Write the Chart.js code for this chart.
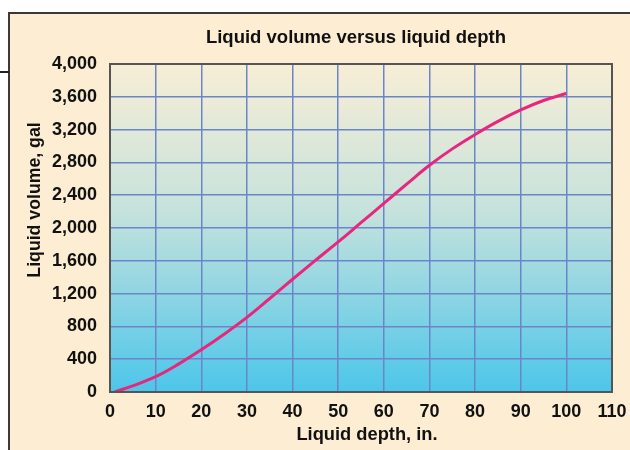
<!DOCTYPE html>
<html>
<head>
<meta charset="utf-8">
<script src="https://cdn.jsdelivr.net/npm/chart.js@4/dist/chart.umd.min.js"></script>
<style>
  html, body { margin: 0; padding: 0; background: #ffffff; }
  #wrap { position: relative; width: 630px; height: 450px; overflow: hidden; }
  #panel {
    position: absolute; left: 8px; top: 12px; width: 640px; height: 460px;
    background: #fdeed3; border-left: 2px solid #3a3a3a; border-top: 2px solid #3a3a3a;
  }
  #stub { position: absolute; left: 0; top: 71px; width: 9px; height: 2px; background: #222; }
  #chart { position: absolute; left: 0; top: 0; }
</style>
</head>
<body>
<div id="wrap">
  <div id="panel"></div>
  <div id="stub"></div>
  <canvas id="chart" width="630" height="450"></canvas>
</div>
<script>
// Liquid depth (in.) and the matching liquid volume (gal)
const depthIn   = [1, 5, 10, 15, 20, 25, 30, 35, 40, 45, 50, 55, 60, 65, 70, 75, 80, 85, 90, 95, 100];
const volumeGal = [0, 75, 187, 340, 515, 705, 910, 1140, 1375, 1605, 1830, 2065, 2300, 2535, 2765, 2965, 3140, 3300, 3440, 3555, 3640];

const xTicks = [0, 10, 20, 30, 40, 50, 60, 70, 80, 90, 100, 110];
const yTicks = [0, 400, 800, 1200, 1600, 2000, 2400, 2800, 3200, 3600, 4000];

const chartTitle = 'Liquid volume versus liquid depth';
const xTitle = 'Liquid depth, in.';
const yTitle = 'Liquid volume, gal';

const FONT = '"Liberation Sans", Arial, Helvetica, sans-serif';

// Plot background gradient plus the frame and captions
const decor = {
  id: 'decor',
  beforeDraw(chart) {
    const { ctx, chartArea: a } = chart;
    const g = ctx.createLinearGradient(0, a.top, 0, a.bottom);
    g.addColorStop(0, '#f7eed6');
    g.addColorStop(0.45, '#c6e2dc');
    g.addColorStop(1, '#4cc6ea');
    ctx.save();
    ctx.fillStyle = g;
    ctx.fillRect(a.left, a.top, a.right - a.left, a.bottom - a.top);
    ctx.restore();
  },
  afterDraw(chart) {
    const { ctx, chartArea: a } = chart;
    ctx.save();
    ctx.strokeStyle = '#555555';
    ctx.lineWidth = 2;
    ctx.strokeRect(a.left, a.top, a.right - a.left, a.bottom - a.top);

    ctx.fillStyle = '#111111';
    ctx.textAlign = 'center';
    ctx.textBaseline = 'middle';
    ctx.font = 'bold 18.5px ' + FONT;
    ctx.fillText(chartTitle, 356, a.top - 26);
    ctx.font = 'bold 18.3px ' + FONT;
    ctx.fillText(xTitle, 367, a.bottom + 43);
    ctx.font = 'bold 17.7px ' + FONT;
    ctx.translate(35, 200);
    ctx.rotate(-Math.PI / 2);
    ctx.fillText(yTitle, 0, 0);
    ctx.restore();
  }
};

new Chart(document.getElementById('chart'), {
  type: 'line',
  data: {
    datasets: [{
      data: depthIn.map((d, i) => ({ x: d, y: volumeGal[i] })),
      borderColor: '#e8267e',
      borderWidth: 3,
      pointRadius: 0,
      fill: false,
      tension: 0.4
    }]
  },
  options: {
    responsive: false,
    animation: false,
    layout: { padding: { left: 0, right: 18, top: 64, bottom: 0 } },
    plugins: { legend: { display: false }, tooltip: { enabled: false }, title: { display: false } },
    scales: {
      x: {
        type: 'linear', min: 0, max: 110,
        afterBuildTicks: s => { s.ticks = xTicks.map(v => ({ value: v })); },
        afterFit: s => { s.height = 58; s.paddingLeft = 0; s.paddingRight = 0; },
        grid: { color: '#6b86c8', lineWidth: 1.5, drawTicks: false },
        border: { display: false },
        ticks: { padding: 9, color: '#111111', font: { family: FONT, size: 18, weight: 'bold' }, maxRotation: 0 }
      },
      y: {
        type: 'linear', min: 0, max: 4000,
        afterBuildTicks: s => { s.ticks = yTicks.map(v => ({ value: v })); },
        afterFit: s => { s.width = 110; s.paddingTop = 0; s.paddingBottom = 0; },
        grid: { color: '#6b86c8', lineWidth: 1.5, drawTicks: false },
        border: { display: false },
        ticks: {
          padding: 13, color: '#111111', font: { family: FONT, size: 18, weight: 'bold' },
          callback: v => v.toLocaleString('en-US')
        }
      }
    }
  },
  plugins: [decor]
});
</script>
</body>
</html>
